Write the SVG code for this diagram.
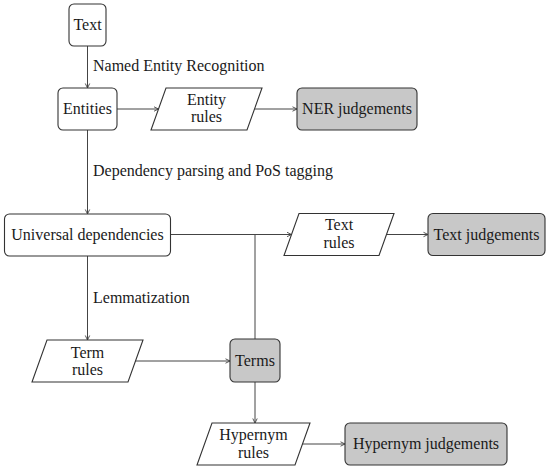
<svg xmlns="http://www.w3.org/2000/svg" width="550" height="470" viewBox="0 0 550 470" font-family="Liberation Serif, Times New Roman, serif" font-size="16">
<style>
.box{fill:#fff;stroke:#333;stroke-width:1.1}
.gray{fill:#c8c8c8;stroke:#333;stroke-width:1.1}
.t{fill:#1a1a1a;text-anchor:middle}
.lbl{fill:#1a1a1a;text-anchor:start}
.c{fill:none;stroke:#444;stroke-width:1}
.a{marker-end:url(#arr)}
</style>
<defs>
<marker id="arr" markerUnits="userSpaceOnUse" markerWidth="8" markerHeight="8" refX="6" refY="4" orient="auto">
<path d="M1.5,1.8 L6,4 L1.5,6.2" fill="none" stroke="#444" stroke-width="0.9"/>
</marker>
</defs>
<g id="connectors">
<line class="c a" x1="87.5" y1="46" x2="87.5" y2="88"/>
<line class="c a" x1="117" y1="109" x2="158.5" y2="109"/>
<line class="c a" x1="254.5" y1="109" x2="297" y2="109"/>
<line class="c a" x1="87.5" y1="130" x2="87.5" y2="214"/>
<line class="c a" x1="170.5" y1="234.5" x2="291.5" y2="234.5"/>
<line class="c" x1="255" y1="234.5" x2="255" y2="339"/>
<line class="c a" x1="386.5" y1="234.5" x2="428" y2="234.5"/>
<line class="c a" x1="87.5" y1="256" x2="87.5" y2="340"/>
<line class="c a" x1="135.5" y1="361" x2="230" y2="361"/>
<line class="c a" x1="255" y1="382" x2="255" y2="423"/>
<line class="c a" x1="302.5" y1="444" x2="345" y2="444"/>
<text class="lbl" x="93" y="71">Named Entity Recognition</text>
<text class="lbl" x="93" y="176">Dependency parsing and PoS tagging</text>
<text class="lbl" x="93" y="303">Lemmatization</text>
</g>
<g id="text">
<rect class="box" x="69" y="4" width="37" height="42" rx="5"/>
<text class="t" x="87.5" y="30">Text</text>
</g>
<g id="entities">
<rect class="box" x="58" y="88" width="59" height="42" rx="5"/>
<text class="t" x="87.5" y="113.5">Entities</text>
</g>
<g id="entity-rules">
<polygon class="box" points="166,88 262,88 247,130 151,130"/>
<text class="t" x="206.5" y="104.5">Entity</text>
<text class="t" x="206.5" y="122">rules</text>
</g>
<g id="ner-judgements">
<rect class="gray" x="297" y="88" width="120" height="42" rx="5"/>
<text class="t" x="357" y="113.5">NER judgements</text>
</g>
<g id="universal-dependencies">
<rect class="box" x="4.5" y="214" width="166" height="42" rx="5"/>
<text class="t" x="87.5" y="239.5">Universal dependencies</text>
</g>
<g id="text-rules">
<polygon class="box" points="299,213.5 394,213.5 379,255.5 284,255.5"/>
<text class="t" x="339" y="230">Text</text>
<text class="t" x="339" y="248">rules</text>
</g>
<g id="text-judgements">
<rect class="gray" x="428" y="213.5" width="117" height="42" rx="5"/>
<text class="t" x="486.5" y="239.5">Text judgements</text>
</g>
<g id="term-rules">
<polygon class="box" points="47,340 143,340 128,382 32,382"/>
<text class="t" x="87.5" y="357.5">Term</text>
<text class="t" x="87.5" y="375">rules</text>
</g>
<g id="terms">
<rect class="gray" x="230" y="339" width="50" height="43" rx="5"/>
<text class="t" x="255" y="365.5">Terms</text>
</g>
<g id="hypernym-rules">
<polygon class="box" points="212,423 310,423 295,465 197,465"/>
<text class="t" x="253.5" y="440">Hypernym</text>
<text class="t" x="253.5" y="458">rules</text>
</g>
<g id="hypernym-judgements">
<rect class="gray" x="345" y="423" width="162" height="42" rx="5"/>
<text class="t" x="426" y="448.5">Hypernym judgements</text>
</g>
</svg>
